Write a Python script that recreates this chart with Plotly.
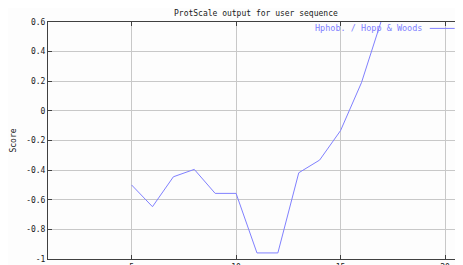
import plotly.graph_objects as go

positions = [5, 6, 7, 8, 9, 10, 11, 12, 13, 14, 15, 16, 17]
scores = [-0.50, -0.647, -0.445, -0.395, -0.557, -0.557, -0.959, -0.959, -0.418, -0.332, -0.133, 0.19, 0.63]
x_ticks = [5, 10, 15, 20]
y_ticks = [0.6, 0.4, 0.2, 0, -0.2, -0.4, -0.6, -0.8, -1]
y_tick_labels = ["0.6", "0.4", "0.2", "0", "-0.2", "-0.4", "-0.6", "-0.8", "-1"]
series_name = "Hphob. / Hopp & Woods"
title_text = "ProtScale output for user sequence"

FONT = "DejaVu Sans Mono"
LINE_COLOR = "#8080ff"

fig = go.Figure()
fig.add_trace(go.Scatter(x=positions, y=scores, mode="lines",
                         line=dict(color=LINE_COLOR, width=1),
                         name=series_name, showlegend=False))

axis_common = dict(showline=True, linecolor="#404040", linewidth=1, mirror="ticks",
                   ticks="inside", ticklen=4, tickcolor="#404040", automargin=False,
                   showgrid=True, gridcolor="#c8c8c8", gridwidth=1,
                   zeroline=False, tickfont=dict(family=FONT, size=8, color="#202020"))

fig.update_xaxes(range=[1, 20.86], tickvals=x_ticks, ticktext=[str(v) for v in x_ticks], **axis_common)
fig.update_yaxes(range=[-1, 0.6], tickvals=y_ticks, ticktext=y_tick_labels,
                 title=dict(text="Score", font=dict(family=FONT, size=8, color="#202020"), standoff=8),
                 **axis_common)

fig.add_annotation(xref="paper", yref="paper", x=0.5, y=1, yshift=9, yanchor="middle",
                   text=title_text, showarrow=False,
                   font=dict(family=FONT, size=8, color="#202020"))
fig.add_annotation(xref="paper", yref="paper", x=0.905, xanchor="right", y=0.973, yanchor="middle",
                   text=series_name, showarrow=False,
                   font=dict(family=FONT, size=8.5, color=LINE_COLOR))
fig.add_shape(type="line", xref="paper", yref="paper", x0=0.92, x1=0.98, y0=0.973, y1=0.973,
              line=dict(color=LINE_COLOR, width=1))

fig.update_layout(width=455, height=257, margin=dict(l=40, r=0, t=14, b=6),
                  paper_bgcolor="#fdfdfd", plot_bgcolor="#fdfdfd", showlegend=False)

fig.write_html("out.html")
